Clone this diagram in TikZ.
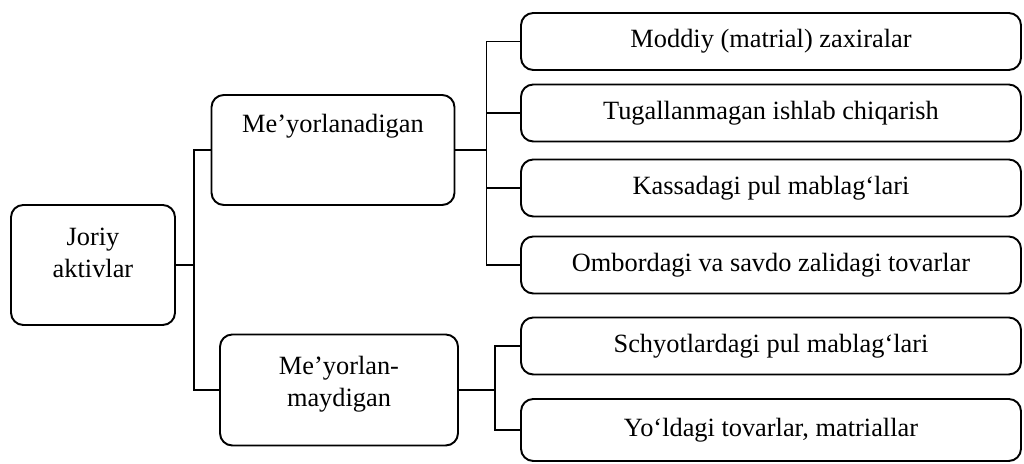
\documentclass[tikz,border=0pt]{standalone}
\usepackage{fontspec}
\setmainfont{Liberation Serif}
\usepackage{tikz}
\tikzset{
	box/.style={draw, line width=1.1pt, rounded corners=7pt, align=center, inner sep=2pt},
	leaf/.style={box, minimum width=10cm, minimum height=1.14cm},
	link/.style={line width=1.1pt}
}

\begin{document}
\begin{tikzpicture}
		%%%%% START %%%%%
		\useasboundingbox (0, 0) rectangle (20.48, -9.28);
		\fontsize{15}{18}\selectfont
		
		\node[box, minimum width=3.28cm, minimum height=2.4cm] (joriy) at (1.86, -5.30) {Joriy\\aktivlar\\[-4pt]};
		
		\node[box, minimum width=4.86cm, minimum height=2.2cm] (meyor) at (6.66, -3.00) {Me’yorlanadigan\\[12pt]~};
		\node[box, minimum width=4.76cm, minimum height=2.22cm] (nomeyor) at (6.78, -7.80) {Me’yorlan-\\maydigan\\[-8pt]};
		
		\node[leaf] (moddiy) at (15.42, -0.83) {Moddiy (matrial) zaxiralar};
		\node[leaf] (tugal) at (15.42, -2.26) {Tugallanmagan ishlab chiqarish};
		\node[leaf] (kassa) at (15.42, -3.76) {Kassadagi pul mablag‘lari};
		\node[leaf] (ombor) at (15.42, -5.30) {Ombordagi va savdo zalidagi tovarlar};
		\node[leaf] (schyot) at (15.42, -6.92) {Schyotlardagi pul mablag‘lari};
		\node[leaf, minimum height=1.24cm] (yol) at (15.42, -8.60) {Yo‘ldagi tovarlar, matriallar};
		
		\draw[link] (joriy.east) -- ++(0.36, 0) coordinate (j0);
		\draw[link] (j0) |- (meyor.west);
		\draw[link] (j0) |- (nomeyor.west);
		
		\draw[link] (meyor.east) -- ++(0.62, 0) coordinate (j1);
		\foreach \leaf in {moddiy, tugal, kassa, ombor}
			\draw[link] (j1) |- (\leaf.west);
		
		\draw[link] (nomeyor.east) -- ++(0.72, 0) coordinate (j2);
		\foreach \leaf in {schyot, yol}
			\draw[link] (j2) |- (\leaf.west);
		
		%%%%% END %%%%%
\end{tikzpicture}
\end{document}
